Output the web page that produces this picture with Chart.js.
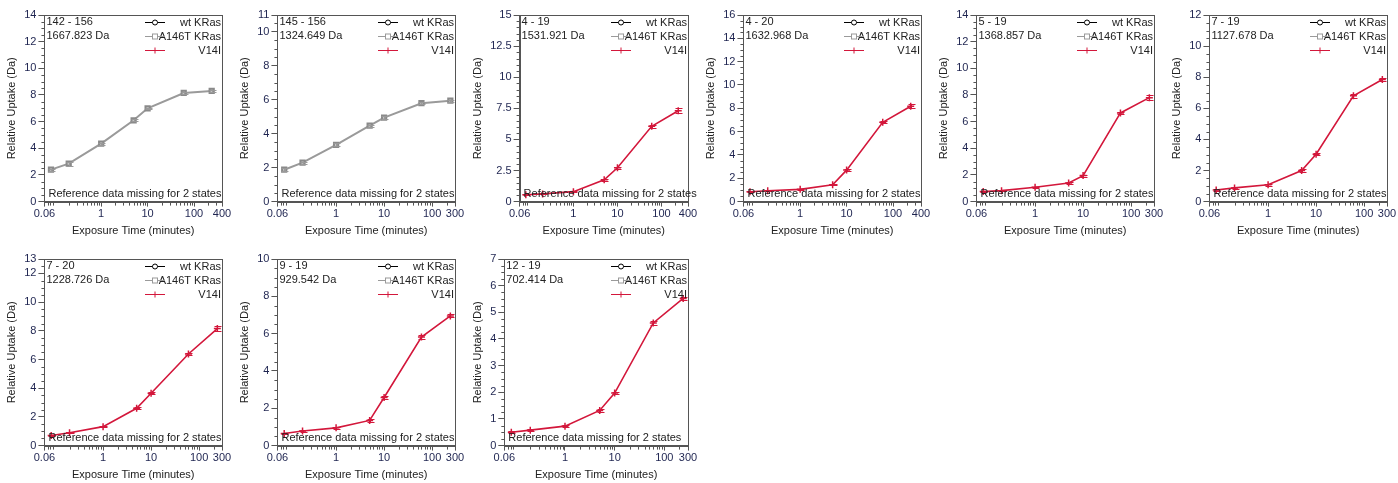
<!DOCTYPE html>
<html>
<head>
<meta charset="utf-8">
<script src="https://cdn.jsdelivr.net/npm/chart.js@4/dist/chart.umd.min.js"></script>
<style>
  html, body { margin: 0; padding: 0; background: #fff; overflow: hidden; }
  .panel { position: absolute; width: 233px; height: 241px; }
</style>
</head>
<body>
<div id="grid"></div>
<script>
/* HDX uptake plots: wt KRas / A146T KRas / V14I */

const TIMES = [0.083, 0.2, 1, 5, 10, 60, 240];
const PEPTIDES = ['142 - 156', '145 - 156', '4 - 19', '4 - 20', '5 - 19', '7 - 19', '7 - 20', '9 - 19', '12 - 19'];
const MASSES = ['1667.823 Da', '1324.649 Da', '1531.921 Da', '1632.968 Da', '1368.857 Da', '1127.678 Da', '1228.726 Da', '929.542 Da', '702.414 Da'];

const A146T = [
  [2.4, 2.85, 4.35, 6.1, 7.0, 8.15, 8.3],
  [1.88, 2.3, 3.35, 4.48, 4.95, 5.8, 5.95],
  null, null, null, null, null, null, null,
];
const A146T_ERR = [
  [0.08, 0.15, 0.08, 0.06, 0.06, 0.1, 0.06],
  [0.08, 0.06, 0.1, 0.06, 0.08, 0.06, 0.06],
  null, null, null, null, null, null, null,
];
const V14I = [
  null, null,
  [0.55, 0.62, 0.8, 1.75, 2.72, 6.05, 7.3],
  [0.85, 0.93, 1.05, 1.45, 2.7, 6.8, 8.17],
  [0.75, 0.82, 1.08, 1.4, 1.95, 6.65, 7.8],
  [0.75, 0.88, 1.08, 2.0, 3.05, 6.8, 7.85],
  [0.7, 0.9, 1.32, 2.6, 3.65, 6.38, 8.15],
  [0.65, 0.78, 0.95, 1.35, 2.58, 5.82, 6.95],
  [0.5, 0.58, 0.73, 1.32, 1.97, 4.6, 5.52],
];
const V14I_ERR = [
  null, null,
  [0.05, 0.04, 0.05, 0.06, 0.08, 0.12, 0.2],
  [0.05, 0.05, 0.05, 0.06, 0.08, 0.08, 0.17],
  [0.05, 0.05, 0.04, 0.05, 0.08, 0.08, 0.18],
  [0.05, 0.04, 0.05, 0.08, 0.06, 0.12, 0.1],
  [0.05, 0.05, 0.05, 0.06, 0.06, 0.1, 0.18],
  [0.05, 0.04, 0.04, 0.06, 0.08, 0.1, 0.08],
  [0.04, 0.03, 0.03, 0.05, 0.04, 0.06, 0.06],
];

const Y_TICKS = [
  [0, 2, 4, 6, 8, 10, 12, 14],
  [0, 2, 4, 6, 8, 10, 11],
  [0, 2.5, 5, 7.5, 10, 12.5, 15],
  [0, 2, 4, 6, 8, 10, 12, 14, 16],
  [0, 2, 4, 6, 8, 10, 12, 14],
  [0, 2, 4, 6, 8, 10, 12],
  [0, 2, 4, 6, 8, 10, 12, 13],
  [0, 2, 4, 6, 8, 10],
  [0, 1, 2, 3, 4, 5, 6, 7],
];
const Y_MINOR = [0.5, 0.5, 0.5, 0.5, 0.5, 0.5, 0.5, 0.5, 0.25];
const X_MAX = [400, 300, 400, 400, 300, 300, 300, 300, 300];
const X_TICKS = [0.06, 1, 10, 100];

const SERIES = ['wt KRas', 'A146T KRas', 'V14I'];
const COL = { wt: '#000000', a146t: '#9a9a9a', v14i: '#d3173b', axis: '#555555', tick: '#1e2450', text: '#222222' };
const FONT = { family: 'Liberation Sans', size: 11 };

const pts = arr => (arr || []).map((v, i) => ({ x: TIMES[i], y: v }));

const extras = {
  id: 'extras',
  afterDatasetsDraw(chart) {
    const ctx = chart.ctx, ys = chart.scales.y;
    chart.data.datasets.forEach((ds, di) => {
      if (!ds.err) return;
      const meta = chart.getDatasetMeta(di);
      ctx.save();
      ctx.strokeStyle = ds.borderColor;
      ctx.lineWidth = 1;
      meta.data.forEach((el, i) => {
        const v = ds.data[i].y, e = ds.err[i];
        const t = Math.round(ys.getPixelForValue(v + e)) + 0.5;
        const b = Math.round(ys.getPixelForValue(v - e)) + 0.5;
        const x = Math.round(el.x) + 0.5;
        ctx.beginPath();
        ctx.moveTo(x, t); ctx.lineTo(x, b);
        ctx.moveTo(x - 3, t); ctx.lineTo(x + 4, t);
        ctx.moveTo(x - 3, b); ctx.lineTo(x + 4, b);
        ctx.stroke();
      });
      ctx.restore();
    });
  },
  afterDraw(chart) {
    const ctx = chart.ctx, ca = chart.chartArea;
    const xs = chart.scales.x, ys = chart.scales.y;
    const idx = chart.options.plugins.extras.idx;
    ctx.save();
    // plot box
    ctx.strokeStyle = COL.axis;
    ctx.lineWidth = 1;
    ctx.strokeRect(Math.round(ca.left) + 0.5, Math.round(ca.top) + 0.5,
      Math.round(ca.right - ca.left), Math.round(ca.bottom - ca.top));
    // minor ticks
    ctx.beginPath();
    [0.01, 0.1, 1, 10, 100].forEach(d => {
      for (let k = 2; k <= 9; k++) {
        const v = k * d;
        if (v <= xs.min || v >= xs.max) continue;
        const x = Math.round(xs.getPixelForValue(v)) + 0.5;
        ctx.moveTo(x, ca.bottom); ctx.lineTo(x, ca.bottom + 4);
      }
    });
    const step = Y_MINOR[idx];
    for (let v = 0; v < ys.max; v += step) {
      if (Y_TICKS[idx].some(t => Math.abs(t - v) < 1e-6)) continue;
      const y = Math.round(ys.getPixelForValue(v)) + 0.5;
      ctx.moveTo(ca.left - 3, y); ctx.lineTo(ca.left, y);
    }
    ctx.stroke();

    // annotations
    ctx.font = '11px "Liberation Sans"';
    ctx.fillStyle = COL.text;
    ctx.textBaseline = 'middle';
    ctx.textAlign = 'left';
    ctx.fillText(PEPTIDES[idx], ca.left + 2, ca.top + 7);
    ctx.fillText(MASSES[idx], ca.left + 2, ca.top + 21);
    ctx.fillText('Reference data missing for 2 states', ca.left + 4, ca.bottom - 8);

    // legend
    ctx.textAlign = 'right';
    const colors = [COL.wt, COL.a146t, COL.v14i];
    SERIES.forEach((name, i) => {
      const y = Math.round(ca.top + 7 + i * 14) + 0.5;
      ctx.fillStyle = COL.text;
      ctx.fillText(name, ca.right - 1, y);
      const x0 = Math.round(ca.right - 77), x1 = Math.round(ca.right - 57), xm = (x0 + x1) / 2;
      ctx.strokeStyle = colors[i];
      ctx.lineWidth = 1;
      ctx.beginPath(); ctx.moveTo(x0, y); ctx.lineTo(x1, y); ctx.stroke();
      if (i === 0) {
        ctx.fillStyle = '#fff';
        ctx.beginPath(); ctx.arc(xm, y, 2.5, 0, Math.PI * 2); ctx.fill(); ctx.stroke();
      } else if (i === 1) {
        ctx.fillStyle = '#fff';
        ctx.fillRect(xm - 2.5, y - 2.5, 5, 5); ctx.strokeRect(xm - 2.5, y - 2.5, 5, 5);
      } else {
        ctx.beginPath(); ctx.moveTo(xm, y - 3); ctx.lineTo(xm, y + 3); ctx.stroke();
      }
    });
    ctx.restore();
  },
};

const grid = document.getElementById('grid');
PEPTIDES.forEach((pep, i) => {
  const div = document.createElement('div');
  div.className = 'panel';
  div.style.left = (i % 6) * 233 + 'px';
  div.style.top = (i < 6 ? 0 : 244) + 'px';
  const cv = document.createElement('canvas');
  cv.width = 233; cv.height = 241;
  div.appendChild(cv);
  grid.appendChild(div);

  const xticks = X_TICKS.concat([X_MAX[i]]);
  new Chart(cv, {
    type: 'line',
    data: {
      datasets: [
        { label: SERIES[0], data: [], borderColor: COL.wt, pointStyle: 'circle' },
        { label: SERIES[1], data: pts(A146T[i]), err: A146T_ERR[i], borderColor: COL.a146t,
          backgroundColor: '#c4c4c4', pointStyle: 'rect', pointRadius: 3, pointBorderColor: '#8a8a8a',
          borderWidth: 2 },
        { label: SERIES[2], data: pts(V14I[i]), err: V14I_ERR[i], borderColor: COL.v14i,
          pointStyle: 'cross', pointRadius: 3.5, pointBorderWidth: 1.5, borderWidth: 1.6 },
      ],
    },
    options: {
      responsive: false,
      animation: false,
      devicePixelRatio: 1,
      layout: { padding: { top: 15, right: 11, left: 3, bottom: 0 } },
      plugins: { legend: { display: false }, tooltip: { enabled: false }, extras: { idx: i } },
      scales: {
        x: {
          type: 'logarithmic', min: 0.06, max: X_MAX[i],
          afterBuildTicks: s => { s.ticks = xticks.map(v => ({ value: v })); },
          ticks: { callback: v => String(v), color: COL.tick, font: FONT, padding: 1, autoSkip: false, maxRotation: 0 },
          grid: { drawOnChartArea: false, tickLength: 5, color: COL.axis },
          border: { color: COL.axis },
          title: { display: true, text: 'Exposure Time (minutes)', color: COL.text, font: FONT, padding: { top: 3, bottom: 3 } },
        },
        y: {
          min: 0, max: Y_TICKS[i][Y_TICKS[i].length - 1],
          afterBuildTicks: s => { s.ticks = Y_TICKS[i].map(v => ({ value: v })); },
          ticks: { callback: v => String(v), color: COL.tick, font: FONT, padding: 2, autoSkip: false },
          grid: { drawOnChartArea: false, tickLength: 6, color: COL.axis },
          border: { color: COL.axis },
          title: { display: true, text: 'Relative Uptake (Da)', color: COL.text, font: FONT, padding: { top: 2, bottom: 4 } },
        },
      },
    },
    plugins: [extras],
  });
});
</script>
</body>
</html>
